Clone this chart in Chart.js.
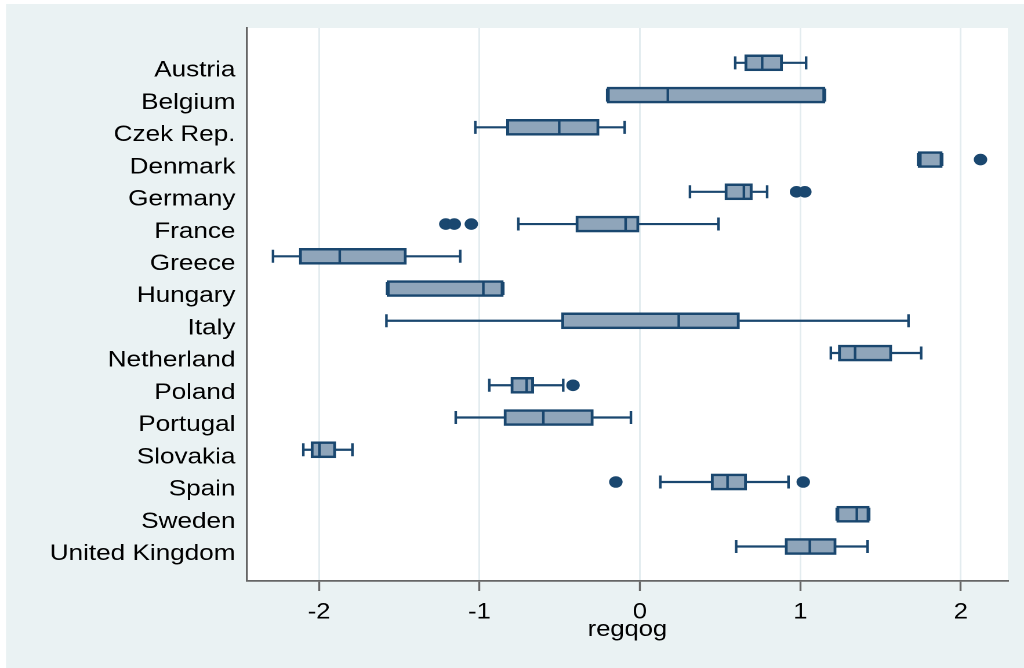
<!DOCTYPE html>
<html><head><meta charset="utf-8">
<script src="https://cdn.jsdelivr.net/npm/chart.js@4.4.1/dist/chart.umd.min.js"></script>
<style>
html,body{margin:0;padding:0;background:#fff;overflow:hidden;}
#wrap{width:883px;height:668px;transform:scaleX(1.1597);transform-origin:0 0;}
canvas{display:block;}
</style></head><body>
<div id="wrap"><canvas id="c" width="883" height="668" style="width:883px;height:668px"></canvas></div>
<script>
const categories = ['Austria','Belgium','Czek Rep.','Denmark','Germany','France','Greece','Hungary','Italy','Netherland','Poland','Portugal','Slovakia','Spain','Sweden','United Kingdom'];
const lowWhisker  = [0.594, -0.204, -1.026, 1.734, 0.312, -0.758, -2.287, -1.576, -1.580, 1.190, -0.939, -1.148, -2.098, 0.127, 1.227, 0.600];
const q1          = [0.654, -0.204, -0.831, 1.734, 0.530, -0.399, -2.123, -1.576, -0.488, 1.237, -0.804, -0.847, -2.050, 0.444, 1.227, 0.905];
const median      = [0.762,  0.174, -0.503, 1.748, 0.648, -0.089, -1.871, -0.976,  0.242, 1.341, -0.706, -0.602, -1.998, 0.546, 1.352, 1.059];
const q3          = [0.889,  1.153, -0.255, 1.884, 0.700, -0.006, -1.456, -0.852,  0.620, 1.570, -0.662, -0.291, -1.896, 0.665, 1.429, 1.223];
const highWhisker = [1.036,  1.153, -0.095, 1.884, 0.793,  0.490, -1.120, -0.852,  1.674, 1.753, -0.478, -0.056, -1.792, 0.926, 1.429, 1.419];
const outlierCats   = ['Denmark','Germany','Germany','France','France','France','Poland','Spain','Spain'];
const outlierValues = [2.123, 0.976, 1.028, -1.210, -1.157, -1.051, -0.417, -0.150, 1.018];
const xTicks = [-2, -1, 0, 1, 2];
const xTitle = 'regqog';

const NAVY = '#1a476f';
const FILL = '#8fa5ba';
const FONT = "'Liberation Sans', Arial, sans-serif";

const boxPlugin = {
  id: 'boxParts',
  beforeDraw(chart) {
    const {ctx, chartArea: a} = chart;
    ctx.save();
    ctx.fillStyle = '#ffffff';
    ctx.fillRect(0, 0, chart.width, chart.height);
    ctx.fillStyle = '#eaf2f3';
    ctx.fillRect(5.2, 4, chart.width, chart.height);
    ctx.fillStyle = '#ffffff';
    ctx.fillRect(a.left, a.top, a.right - a.left, a.bottom - a.top);
    ctx.restore();
  },
  beforeDatasetsDraw(chart) {
    const {ctx} = chart;
    const xs = chart.scales.x, ys = chart.scales.y;
    ctx.save();
    ctx.strokeStyle = NAVY;
    ctx.lineWidth = 2.2;
    categories.forEach((c, i) => {
      const y = ys.getPixelForValue(i + 1);
      const xl = xs.getPixelForValue(lowWhisker[i]);
      const x1 = xs.getPixelForValue(q1[i]);
      const x3 = xs.getPixelForValue(q3[i]);
      const xh = xs.getPixelForValue(highWhisker[i]);
      ctx.beginPath();
      ctx.moveTo(xl, y); ctx.lineTo(x1, y);
      ctx.moveTo(x3, y); ctx.lineTo(xh, y);
      ctx.moveTo(xl, y - 6.5); ctx.lineTo(xl, y + 6.5);
      ctx.moveTo(xh, y - 6.5); ctx.lineTo(xh, y + 6.5);
      ctx.stroke();
    });
    ctx.restore();
  },
  afterDatasetsDraw(chart) {
    const {ctx} = chart;
    const xs = chart.scales.x, ys = chart.scales.y;
    ctx.save();
    ctx.strokeStyle = NAVY;
    ctx.lineWidth = 2.2;
    categories.forEach((c, i) => {
      const y = ys.getPixelForValue(i + 1);
      const xm = xs.getPixelForValue(median[i]);
      ctx.beginPath();
      ctx.moveTo(xm, y - 7.5); ctx.lineTo(xm, y + 7.5);
      ctx.stroke();
    });
    ctx.restore();
  }
};

new Chart(document.getElementById('c'), {
  type: 'bar',
  data: {
    datasets: [
      {
        type: 'bar',
        indexAxis: 'y',
        data: categories.map((c, i) => ({x: [q1[i], q3[i]], y: i + 1})),
        backgroundColor: FILL,
        borderColor: NAVY,
        borderWidth: 2.5,
        borderSkipped: false,
        barThickness: 16,
        order: 2
      },
      {
        type: 'scatter',
        indexAxis: 'x',
        data: outlierCats.map((c, i) => ({x: outlierValues[i], y: categories.indexOf(c) + 1})),
        backgroundColor: NAVY,
        borderWidth: 0,
        pointRadius: 5.8,
        pointHoverRadius: 5.8,
        order: 1
      }
    ]
  },
  options: {
    responsive: false,
    devicePixelRatio: 2,
    animation: false,
    layout: {padding: {left: 0, top: 28, right: 14, bottom: 0}},
    plugins: {legend: {display: false}, tooltip: {enabled: false}},
    scales: {
      x: {
        type: 'linear',
        position: 'bottom',
        min: -2.449,
        max: 2.293,
        offset: false,
        afterBuildTicks: s => { s.ticks = xTicks.map(v => ({value: v})); },
        afterFit: s => { s.height = 87; },
        ticks: {
          includeBounds: false,
          color: '#000',
          font: {family: FONT, size: 22},
          padding: 8,
          maxRotation: 0,
          callback: v => String(v)
        },
        grid: {
          display: true,
          drawOnChartArea: true,
          color: '#e3ecef',
          lineWidth: 1.5,
          tickColor: '#666',
          tickWidth: 1.7,
          tickLength: 10,
          offset: false
        },
        border: {display: true, color: '#666', width: 1.7},
        title: {
          display: true,
          text: xTitle,
          color: '#000',
          font: {family: FONT, size: 22},
          padding: {top: 0, bottom: 25}
        }
      },
      y: {
        type: 'linear',
        position: 'left',
        reverse: true,
        min: -0.08,
        max: 17.07,
        offset: false,
        afterBuildTicks: s => { s.ticks = categories.map((c, i) => ({value: i + 1})); },
        afterFit: s => { s.width = 213; },
        ticks: {
          autoSkip: false,
          color: '#000',
          font: {family: FONT, size: 22.5},
          padding: 10,
          labelOffset: 7.5,
          callback: v => categories[v - 1]
        },
        grid: {display: true, drawOnChartArea: false, drawTicks: false, offset: false},
        border: {display: true, color: '#666', width: 1.7}
      }
    }
  },
  plugins: [boxPlugin]
});
</script>
</body></html>
